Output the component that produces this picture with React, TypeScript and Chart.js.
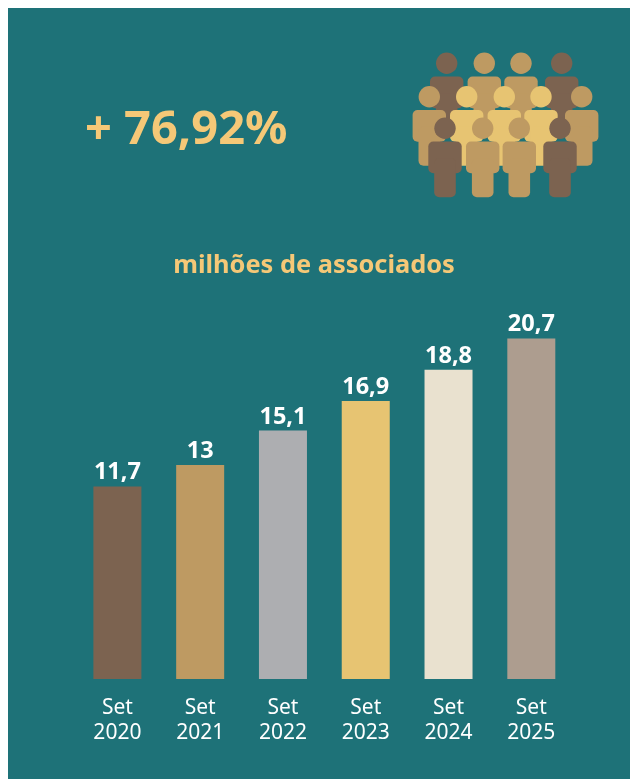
import React, { useEffect, useRef } from "react";
import { Chart, registerables } from "chart.js";

Chart.register(...registerables);

const categories = [["Set", "2020"], ["Set", "2021"], ["Set", "2022"], ["Set", "2023"], ["Set", "2024"], ["Set", "2025"]];
const associados = [11.7, 13, 15.1, 16.9, 18.8, 20.7];
const valueLabels = ["11,7", "13", "15,1", "16,9", "18,8", "20,7"];
const barColors = ["#7c6350", "#be9a62", "#adaeb1", "#e7c472", "#e9e1cf", "#ad9d8f"];
const headline = "+ 76,92%";
const subtitle = "milhões de associados";

const BG = "#1e7278";
const GOLD = "#f5c877";
const FONT = '"Noto Sans", sans-serif';
const BROWN = "#7c6350";
const TAN = "#be9a62";
const YELLOW = "#e7c472";

const people: [number, number, string][] = [
  [446.7, 63.3, BROWN], [484.3, 63.3, TAN], [521, 63.3, TAN], [561.7, 63.3, BROWN],
  [429.3, 96.7, TAN], [466.7, 96.7, YELLOW], [504.3, 96.7, YELLOW], [541, 96.7, YELLOW], [581.7, 96.7, TAN],
  [445, 128.3, BROWN], [482.7, 128.3, TAN], [519.3, 128.3, TAN], [560, 128.3, BROWN],
];

const barLabels = {
  id: "barLabels",
  afterDatasetsDraw(chart: any) {
    const ctx = chart.ctx;
    const meta = chart.getDatasetMeta(0);
    ctx.save();
    ctx.fillStyle = "#ffffff";
    ctx.font = `700 23.5px ${FONT}`;
    ctx.textAlign = "center";
    ctx.textBaseline = "alphabetic";
    meta.data.forEach((bar: any, i: number) => {
      ctx.fillText(valueLabels[i], bar.x, bar.y - 7);
    });
    ctx.restore();
  },
};

export default function App() {
  const ref = useRef<HTMLCanvasElement>(null);
  useEffect(() => {
    document.documentElement.style.overflow = "hidden";
    const chart = new Chart(ref.current!, {
      type: "bar",
      data: {
        labels: categories,
        datasets: [{
          data: associados,
          backgroundColor: barColors,
          borderWidth: 0,
          categoryPercentage: 1,
          barPercentage: 0.58,
        }],
      },
      plugins: [barLabels],
      options: {
        responsive: false,
        animation: false,
        layout: { padding: { top: 309.05, left: 68, right: 57.3, bottom: 0 } },
        plugins: { legend: { display: false }, tooltip: { enabled: false }, title: { display: false } },
        scales: {
          y: { display: false, min: 0, max: 22 },
          x: {
            grid: { display: false },
            border: { display: false },
            afterFit(axis: any) { axis.height = 100.05; },
            ticks: {
              color: "#ffffff",
              padding: 9,
              maxRotation: 0,
              autoSkip: false,
              font: { family: "Noto Sans", size: 21, lineHeight: 1.19 },
            },
          },
        },
      },
    } as any);
    return () => chart.destroy();
  }, []);

  return (
    <div style={{ position: "fixed", left: 8, top: 8, width: 2000, height: 2000, background: BG, overflow: "hidden" }}>
      <canvas ref={ref} width={622} height={771} style={{ position: "absolute", left: 0, top: 0, display: "block" }} />
      <div style={{ position: "absolute", left: 77, top: 86, color: GOLD, font: `700 47px ${FONT}`, lineHeight: "64px", whiteSpace: "nowrap" }}>{headline}</div>
      <div style={{ position: "absolute", left: 0, width: 612, top: 238, textAlign: "center", color: GOLD, font: `700 25.4px ${FONT}`, lineHeight: "34px", whiteSpace: "nowrap" }}>{subtitle}</div>
      <svg width={622} height={771} viewBox="8 8 622 771" style={{ position: "absolute", left: 0, top: 0 }}>
        {people.map(([x, y, c], i) => (
          <g key={i} fill={c}>
            <circle cx={x} cy={y} r={10.7} />
            <rect x={x - 16.7} y={y + 13.3} width={33.4} height={31.7} rx={5} />
            <rect x={x - 10.8} y={y + 30} width={21.6} height={39} rx={5} />
          </g>
        ))}
      </svg>
    </div>
  );
}
